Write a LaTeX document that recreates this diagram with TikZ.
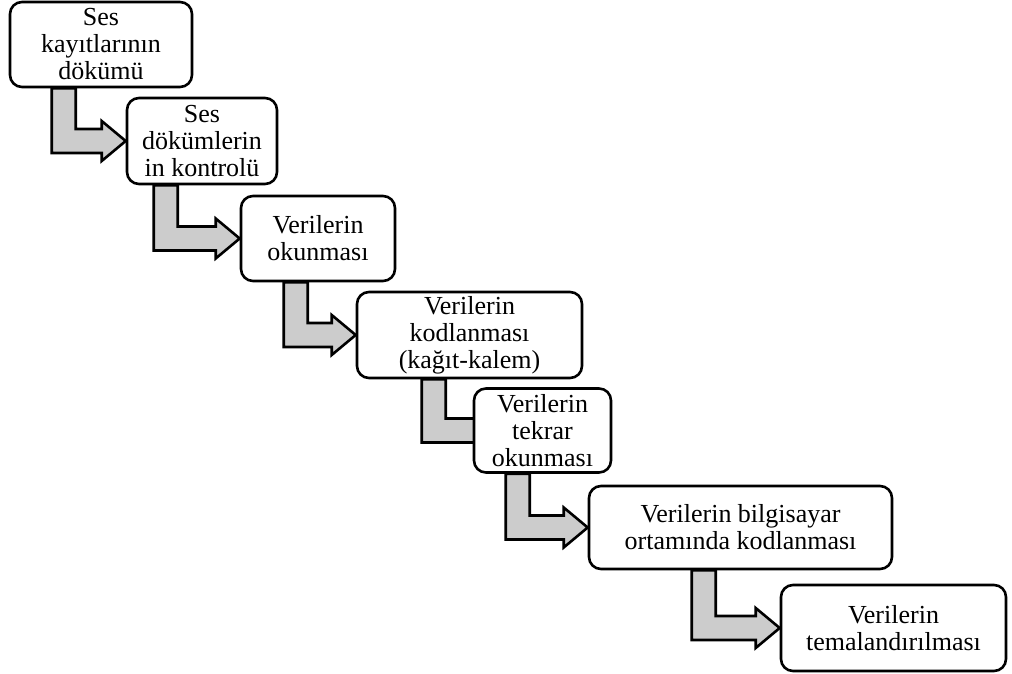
\documentclass[tikz,border=0pt]{standalone}
\usepackage{fontspec}
\setmainfont{Liberation Serif}
\usetikzlibrary{calc,backgrounds}
\tikzset{
  stage/.style={draw, line width=1.3pt, rounded corners=6pt, fill=white, align=center,
    inner sep=1pt, font=\fontsize{13}{13.5}\selectfont},
  flow/.style={draw, line width=1.3pt, fill=black!20, line join=miter}
}
% bent arrow: upper box, lower box, shaft offset, tip shift
\newcommand{\flowarr}[4]{
  \draw[flow] let \p1=($(#1.south west)+(#3,0)$), \p2=($(#2.west)+(#4,0)$) in
    (\x1,\y1)--(\x1+12pt,\y1)--(\x1+12pt,\y2+6pt)--(\x2-12pt,\y2+6pt)--(\x2-12pt,\y2+10pt)
    --(\x2,\y2)--(\x2-12pt,\y2-10pt)--(\x2-12pt,\y2-6pt)--(\x1,\y2-6pt)--cycle;
}

\begin{document}
\begin{tikzpicture}[x=0.5pt, y=-0.5pt]
  \useasboundingbox (0,0) rectangle (1012,674);
  \node[stage, minimum width=91pt, minimum height=42.5pt] (s1) at (101,44.5) {Ses\\kayıtlarının\\dökümü};
  \node[stage, minimum width=75pt, minimum height=43pt] (s2) at (202,141) {Ses\\dökümlerin\\in kontrolü};
  \node[stage, minimum width=77pt, minimum height=42.5pt] (s3) at (318,238.5) {Verilerin\\okunması};
  \node[stage, minimum width=112.5pt, minimum height=43pt] (s4) at (469.5,335) {Verilerin\\kodlanması\\(kağıt-kalem)};
  \node[stage, minimum width=68.5pt, minimum height=42pt] (s5) at (542.5,430.5) {Verilerin\\tekrar\\okunması};
  \node[stage, minimum width=151.5pt, minimum height=41.5pt] (s6) at (740.5,527.5) {Verilerin bilgisayar\\ortamında kodlanması};
  \node[stage, minimum width=112.5pt, minimum height=43pt] (s7) at (893.5,628) {Verilerin\\temalandırılması};
  \begin{scope}[on background layer]
    \flowarr{s1}{s2}{43}{0}
    \flowarr{s2}{s3}{28}{0}
    \flowarr{s3}{s4}{44}{0}
    \flowarr{s4}{s5}{66}{40}
    \flowarr{s5}{s6}{33}{0}
    \flowarr{s6}{s7}{104}{0}
  \end{scope}
\end{tikzpicture}
\end{document}
